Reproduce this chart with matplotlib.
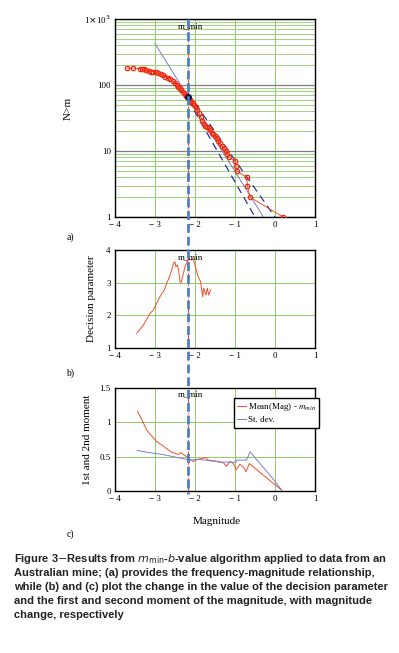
import matplotlib
matplotlib.use("Agg")
import matplotlib.pyplot as plt
import matplotlib.transforms as mtransforms
from matplotlib.lines import Line2D
from matplotlib.ticker import FixedLocator, LogLocator, NullFormatter

SERIF = "Liberation Serif"
SANS = "Liberation Sans"
GREEN = "#8fcc6a"
RED = "#f0502a"
CIRCLE = "#ee2a10"
NAVY = "#2a2e9a"
FIT = "#7a7cc8"
BIG_BLUE = "#4f7fc0"

M_MIN = -2.175

# (a) cumulative frequency-magnitude
mag_a = [-3.70, -3.55, -3.38, -3.33, -3.28, -3.22, -3.16, -3.10, -3.04, -2.98,
         -2.92, -2.86, -2.80, -2.74, -2.68, -2.62, -2.56, -2.50, -2.46, -2.42,
         -2.38, -2.34, -2.30, -2.26, -2.22, -2.18, -2.14, -2.10, -2.06, -2.02,
         -1.98, -1.94, -1.90, -1.86, -1.82, -1.78, -1.74, -1.70, -1.66, -1.62,
         -1.58, -1.54, -1.50, -1.46, -1.42, -1.38, -1.33, -1.28, -1.225, -1.21,
         -1.14, -1.00, -0.98, -0.96, -0.71, -0.69, -0.625, 0.20]
n_a = [180, 180, 177, 175, 172, 168, 164, 160, 160, 156,
       151, 146, 140, 134, 129, 124, 116, 106, 100, 94,
       89, 83, 77, 72, 69, 66, 62, 58, 54, 50,
       46, 42, 38, 33, 28, 26, 24, 23, 22, 21,
       19, 18, 17, 16, 14, 13, 12, 11, 10, 9,
       8, 7, 6, 5, 4, 3, 2, 1]
fit_m = [-3.0, -0.29]
fit_n = [423, 1]
low_m = [M_MIN, -0.5]
low_n = [60, 1]
up_m = [M_MIN, 0.0]
up_n = [75, 1]
knee_n = 66

# (b) decision parameter
mag_b = [-3.458, -3.29, -3.125, -3.04, -2.96, -2.875, -2.83, -2.79, -2.75, -2.71,
         -2.67, -2.625, -2.58, -2.54, -2.50, -2.48, -2.44, -2.41, -2.375, -2.35,
         -2.31, -2.25, -2.21, -2.17, -2.11, -2.06, -2.02, -1.98, -1.92, -1.86,
         -1.81, -1.78, -1.73, -1.69, -1.66, -1.61]
dec_b = [1.45, 1.70, 2.06, 2.16, 2.37, 2.57, 2.67, 2.72, 2.83, 2.98,
         3.08, 3.23, 3.39, 3.59, 3.64, 3.49, 3.54, 3.39, 3.03, 3.00,
         3.18, 3.49, 3.59, 3.74, 3.69, 3.74, 3.64, 3.44, 3.18, 3.03,
         2.57, 2.83, 2.62, 2.83, 2.62, 2.78]

# (c) first and second moment
mag_mean = [-3.44, -3.33, -3.21, -3.08, -2.96, -2.83, -2.71, -2.58, -2.50, -2.42,
            -2.36, -2.29, -2.23, -2.14, -2.04, -1.96, -1.83, -1.75, -1.67, -1.54,
            -1.42, -1.29, -1.21, -1.125, -1.04, -0.975, -0.875, -0.79, -0.725, -0.64,
            -0.54, -0.29, -0.04, 0.17]
mean_c = [1.16, 1.04, 0.89, 0.80, 0.72, 0.67, 0.62, 0.56, 0.55, 0.53,
          0.56, 0.53, 0.51, 0.46, 0.43, 0.46, 0.47, 0.49, 0.45, 0.44,
          0.43, 0.41, 0.36, 0.43, 0.40, 0.31, 0.39, 0.35, 0.28, 0.40,
          0.35, 0.23, 0.11, 0.01]
mag_std = [-3.44, -3.25, -3.04, -2.79, -2.54, -2.29, -2.125, -1.875, -1.625, -1.375,
           -1.125, -0.975, -0.96, -0.71, -0.625, -0.375, -0.125, 0.17]
std_c = [0.59, 0.57, 0.55, 0.53, 0.50, 0.47, 0.45, 0.46, 0.44, 0.42,
         0.42, 0.42, 0.45, 0.45, 0.57, 0.40, 0.23, 0.01]

x_ticks = [-4, -3, -2, -1, 0, 1]
x_labels = ["\u2212 4", "\u2212 3", "\u2212 2", "\u2212 1", "0", "1"]

W, H = 399, 653
fig = plt.figure(figsize=(W / 100, H / 100), dpi=100)
fig.patch.set_facecolor("white")


def px_axes(left, top, right, bottom):
    return fig.add_axes([left / W, 1 - bottom / H, (right - left) / W, (bottom - top) / H])


def style(ax):
    ax.set_xlim(-4, 1)
    ax.xaxis.set_major_locator(FixedLocator(x_ticks))
    ax.set_xticklabels(x_labels)
    ax.tick_params(length=0, pad=3, labelsize=6.5)
    for lab in ax.get_xticklabels() + ax.get_yticklabels():
        lab.set_fontfamily(SERIF)
    for sp in ax.spines.values():
        sp.set_color("black")
        sp.set_linewidth(1.0)
    ax.set_axisbelow(True)
    ax.axvline(M_MIN, color=RED, lw=0.8, ls=(0, (4, 1.5, 1, 1.5)), zorder=2)


# ---- (a)
ax_a = px_axes(115, 19, 315, 217)
ax_a.set_yscale("log")
ax_a.set_ylim(1, 1000)
style(ax_a)
ax_a.yaxis.set_major_locator(FixedLocator([1, 10, 100, 1000]))
ax_a.set_yticklabels(["1", "10", "100", r"1$\times$10$^3$"])
for lab in ax_a.get_yticklabels():
    lab.set_fontfamily(SERIF)
ax_a.yaxis.set_minor_locator(LogLocator(base=10, subs=range(2, 10)))
ax_a.yaxis.set_minor_formatter(NullFormatter())
ax_a.tick_params(which="minor", length=0)
ax_a.grid(True, which="minor", axis="y", color=GREEN, lw=0.6)
ax_a.grid(True, which="major", axis="y", color="#7f7f7f", lw=0.9)
ax_a.grid(True, which="major", axis="x", color=GREEN, lw=0.7)
ax_a.plot(fit_m, fit_n, color=FIT, lw=0.7, zorder=3)
ax_a.plot(low_m, low_n, color=NAVY, lw=0.9, ls=(0, (6, 4)), zorder=3)
ax_a.plot(up_m, up_n, color=NAVY, lw=0.9, ls=(0, (6, 4)), zorder=3)
ax_a.plot(mag_a, n_a, color=RED, lw=0.7, marker="o", ms=3.2, mfc="none",
          mec=CIRCLE, mew=0.9, zorder=4)
ax_a.plot([M_MIN], [knee_n], "o", color="#101040", ms=4, zorder=5)
ax_a.text(-2.12, 10 ** (3 - 7 / 66), "m_min", fontsize=6.5, family=SERIF,
          ha="center", va="center", zorder=6)

# ---- (b)
ax_b = px_axes(115, 250, 315, 348)
ax_b.set_ylim(1, 4)
style(ax_b)
ax_b.yaxis.set_major_locator(FixedLocator([1, 2, 3, 4]))
ax_b.set_yticklabels(["1", "2", "3", "4"])
for lab in ax_b.get_yticklabels():
    lab.set_fontfamily(SERIF)
ax_b.grid(True, color=GREEN, lw=0.7)
ax_b.plot(mag_b, dec_b, color=RED, lw=0.7, zorder=3)
ax_b.text(-2.12, 4 - 7 / 32.7, "m_min", fontsize=6.5, family=SERIF,
          ha="center", va="center", zorder=6)

# ---- (c)
ax_c = px_axes(115, 388, 315, 491)
ax_c.set_ylim(0, 1.5)
style(ax_c)
ax_c.yaxis.set_major_locator(FixedLocator([0, 0.5, 1, 1.5]))
ax_c.set_yticklabels(["0", "0.5", "1", "1.5"])
for lab in ax_c.get_yticklabels():
    lab.set_fontfamily(SERIF)
ax_c.grid(True, color=GREEN, lw=0.7)
ax_c.plot(mag_mean, mean_c, color=RED, lw=0.7, zorder=3,
          label=r"Mean(Mag) - $m_{min}$")
ax_c.plot(mag_std, std_c, color=FIT, lw=0.7, zorder=3, label="St. dev.")
ax_c.text(-2.12, 1.5 - 6 / 68.7, "m_min", fontsize=6.5, family=SERIF,
          ha="center", va="center", zorder=6)
leg = ax_c.legend(loc="upper left", bbox_to_anchor=(0.57, 0.945), fancybox=False,
                  framealpha=1, edgecolor="black", handlelength=1.0,
                  handletextpad=0.2, borderpad=0.35, labelspacing=0.3,
                  prop={"family": SERIF, "size": 6.5})
leg.get_frame().set_linewidth(1.0)
for t in leg.get_texts():
    t.set_math_fontfamily("stix")

# big dashed m_min marker across all panels
trans = mtransforms.blended_transform_factory(ax_a.transData, fig.transFigure)
fig.add_artist(Line2D([M_MIN, M_MIN], [1 - 19 / H, 1 - 494 / H], transform=trans,
                      color=BIG_BLUE, lw=2.0, ls=(0, (3.2, 1.4)), zorder=10))

# axis labels and panel tags
fig.text(68 / W, 1 - 108 / H, "N>m", rotation=90, family=SERIF, fontsize=8,
         ha="center", va="center")
fig.text(92 / W, 1 - 299 / H, "Decision parameter", rotation=90, family=SERIF,
         fontsize=8, ha="center", va="center")
fig.text(88 / W, 1 - 440 / H, "1st and 2nd moment", rotation=90, family=SERIF,
         fontsize=8, ha="center", va="center")
fig.text(217 / W, 1 - 521 / H, "Magnitude", family=SERIF, fontsize=8,
         ha="center", va="center")
for tag, y in [("a)", 237), ("b)", 373), ("c)", 534)]:
    fig.text(70 / W, 1 - y / H, tag, family=SERIF, fontsize=7, ha="center", va="center")

caption = [
    r"Figure 3$-$Results from $m_{\rm min}$-$b$-value algorithm applied to data from an",
    "Australian mine; (a) provides the frequency-magnitude relationship,",
    "while (b) and (c) plot the change in the value of the decision parameter",
    "and the first and second moment of the magnitude, with magnitude",
    "change, respectively",
]
for i, line in enumerate(caption):
    t = fig.text(14 / W, 1 - (559 + 14 * i) / H, line, family=SANS, fontsize=8.0,
                 fontweight="bold", ha="left", va="center", color="#222222")
    t.set_math_fontfamily("dejavusans")

fig.savefig("out.png", dpi=100, facecolor="white")
